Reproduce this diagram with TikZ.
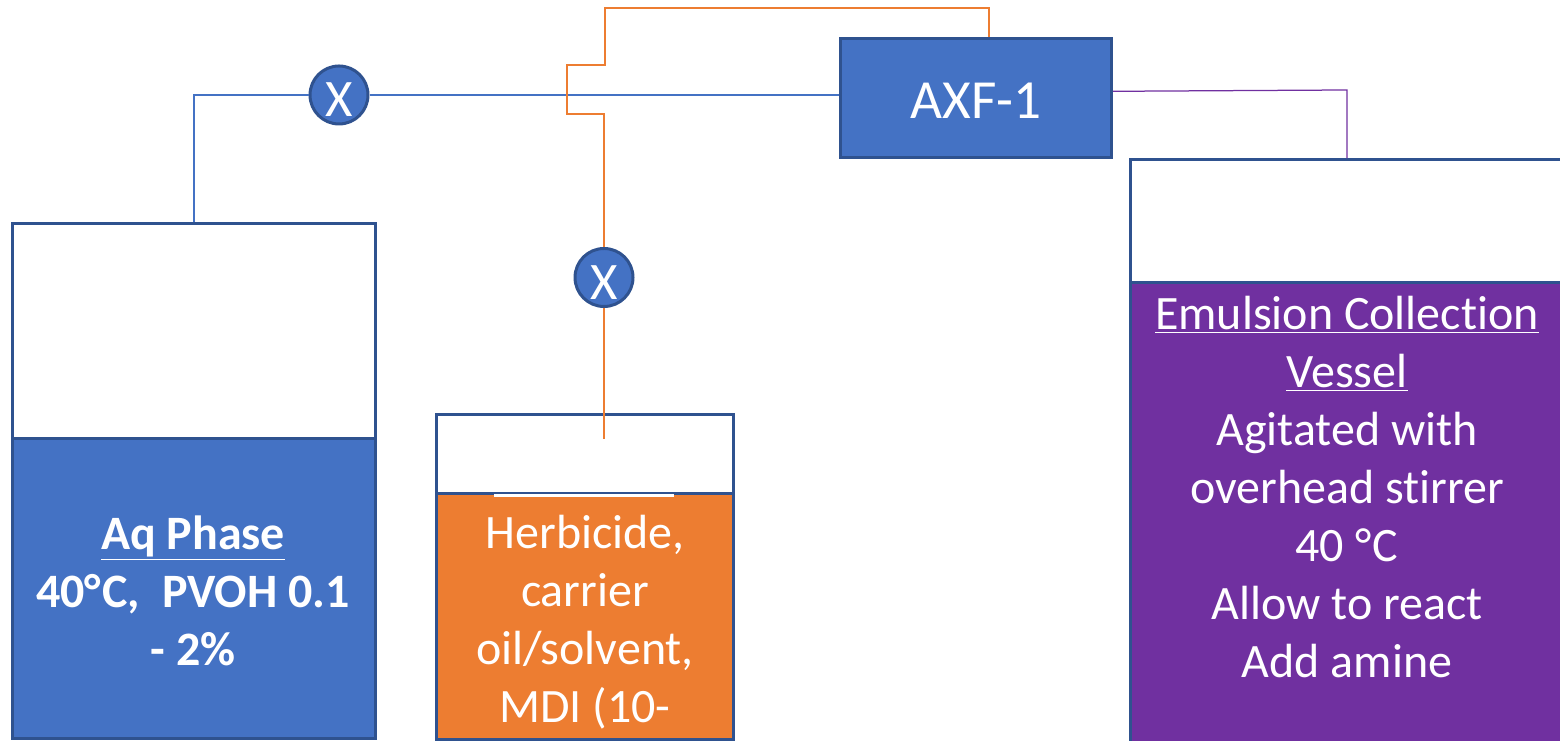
\documentclass[tikz,border=0pt]{standalone}
\usepackage{fontspec}
\setmainfont{Carlito}[Ligatures=NoCommon]
\definecolor{boxBlue}{HTML}{4472C4}
\definecolor{boxOrange}{HTML}{ED7D31}
\definecolor{boxPurple}{HTML}{7030A0}
\definecolor{edgeBlue}{HTML}{2F528F}
\tikzset{
    tank/.style={draw=edgeBlue, line width=0.06cm, fill=white, inner sep=0pt},
    liquid/.style={draw=edgeBlue, line width=0.06cm, inner sep=0pt},
    valve/.style={circle, draw=edgeBlue, line width=0.06cm, fill=boxBlue, minimum size=1.16cm, inner sep=0pt, text=white, text height=25pt, font=\fontsize{30}{30}\selectfont},
    label/.style={text=white, align=center, inner sep=0pt, font=\fontsize{27.3}{33}\selectfont},
    pipe/.style={line width=0.025cm}
}
\begin{document}
\begin{tikzpicture}
        \useasboundingbox (0,0) rectangle (31.2,14.82);

        \node (aqTank)      at ( 3.88, 5.19) [tank, minimum width=7.26cm, minimum height=10.3cm] {};
        \node (aqLiquid)    at ( 3.88, 3.04) [liquid, fill=boxBlue, minimum width=7.26cm, minimum height=6.0cm] {};
        \node (oilTank)     at (11.70, 3.27) [tank, minimum width=5.94cm, minimum height=6.5cm] {};
        \node (oilLiquid)   at (11.70, 2.48) [liquid, fill=boxOrange, minimum width=5.94cm, minimum height=4.92cm] {};
        \node (collectTank) at (26.92, 5.60) [tank, minimum width=8.64cm, minimum height=12.04cm] {};
        \node (collectLiquid) at (26.92, 4.37) [liquid, fill=boxPurple, minimum width=8.64cm, minimum height=9.58cm] {};
        \node (axf)         at (19.52,12.85) [liquid, fill=boxBlue, minimum width=5.42cm, minimum height=2.38cm, text=white, text height=23pt, font=\fontsize{31.4}{31.4}\selectfont] {AXF-1};
        \node (valveAq)     at ( 6.78,12.92) [valve] {X};
        \node (valveOil)    at (12.08, 9.27) [valve] {X};

        \node (aqText)      at ( 3.86, 3.00) [label, font=\fontsize{27.3}{33}\selectfont\bfseries] {\underline{Aq Phase}\\40°\kern0.8pt C,~ PVOH 0.1\\- 2\%};
        \node (oilText)     at (11.70, 2.38) [label] {Herbicide,\\carrier\\oil/solvent,\\MDI (10-};
        \node (collectText) at (26.94, 5.08) [label] {\underline{Emulsion Collection}\\\underline{Vessel}\\Agitated with\\overhead stirrer\\40 °\kern0.8pt C\\Allow to react\\Add amine};

        \coordinate (oilEnd)   at (12.08, 6.04);
        \coordinate (orangeA)  at (19.78,14.66);
        \coordinate (orangeB)  at (12.10,14.66);
        \coordinate (orangeC)  at (12.10,13.52);
        \coordinate (orangeD)  at (11.34,13.52);
        \coordinate (orangeE)  at (11.34,12.54);
        \coordinate (orangeF)  at (12.08,12.54);
        \coordinate (purpleA)  at (26.94,13.02);

        % aqTank -> axf
        \draw[pipe, boxBlue] (aqTank.north) |- (valveAq.west);
        \draw[pipe, boxBlue] (valveAq.east) -- (valveAq.east -| axf.west);
        % oilTank -> axf
        \draw[pipe, boxOrange] (oilEnd) -- (valveOil.south);
        \draw[pipe, boxOrange] (valveOil.north) -- (orangeF) -- (orangeE) -- (orangeD) -- (orangeC) -- (orangeB) -- (orangeA) -- (orangeA |- axf.north);
        % axf -> collectTank
        \draw[pipe, boxPurple] (axf.3) -- (purpleA) -- (purpleA |- collectTank.north);
        % gap on the oil level
        \draw[line width=0.05cm, white] (9.88,4.91) -- (13.48,4.91);
    \end{tikzpicture}
\end{document}
